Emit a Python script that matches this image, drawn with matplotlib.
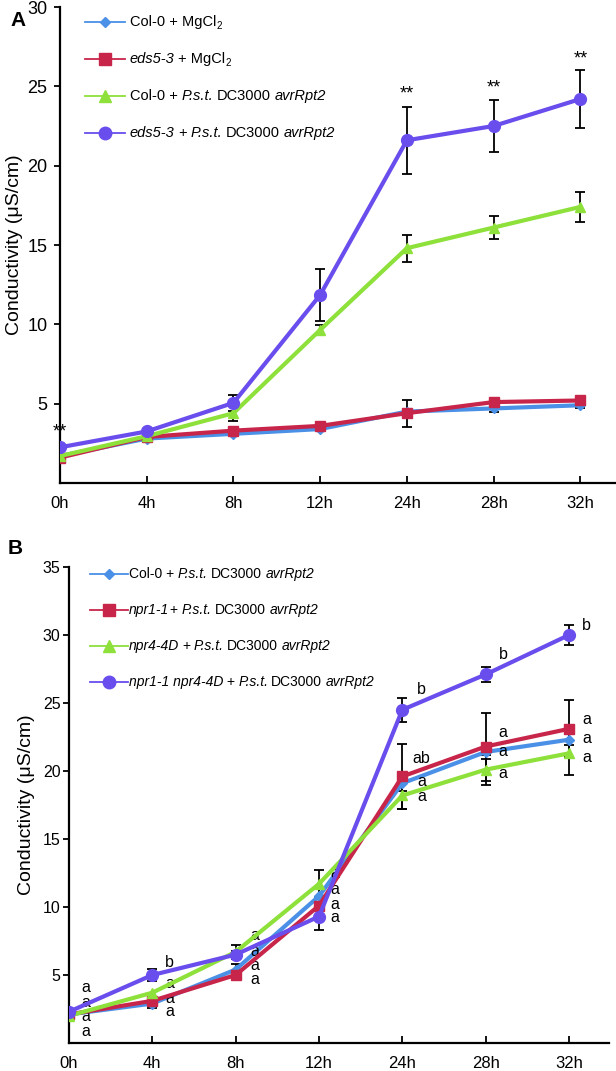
import matplotlib
matplotlib.use("Agg")
import matplotlib.pyplot as plt
import numpy as np

plt.rcParams['font.family'] = ['Liberation Sans', 'DejaVu Sans']

# ---------------- data ----------------
time_labels = ['0h', '4h', '8h', '12h', '24h', '28h', '32h']

# Panel A  (legend labels as (text, style) pieces; 'i' italic, 'n' normal, 's' subscript)
a_labels = [
    [("Col-0 + MgCl", 'n'), ("2", 's')],
    [("eds5-3", 'i'), ("+ MgCl", 'n'), ("2", 's')],
    [("Col-0 +", 'n'), ("P.s.t.", 'i'), ("DC3000", 'n'), ("avrRpt2", 'i')],
    [("eds5-3", 'i'), ("+", 'n'), ("P.s.t.", 'i'), ("DC3000", 'n'), ("avrRpt2", 'i')],
]
a_col0_mg = [1.7, 2.8, 3.1, 3.4, 4.5, 4.7, 4.9]
a_eds_mg = [1.6, 2.9, 3.3, 3.6, 4.4, 5.1, 5.2]
a_col0_pst = [1.7, 2.95, 4.4, 9.65, 14.8, 16.1, 17.4]
a_eds_pst = [2.25, 3.25, 5.05, 11.85, 21.6, 22.5, 24.2]
a_col0_mg_err = [0, 0, 0, 0, 0, 0.2, 0.2]
a_eds_mg_err = [0, 0, 0, 0, 0.85, 0, 0]
a_col0_pst_err = [0, 0, 0.5, 0.3, 0.85, 0.75, 0.95]
a_eds_pst_err = [0, 0, 0.5, 1.65, 2.1, 1.65, 1.8]
a_star_idx = [0, 4, 5, 6]
a_star_y = [3.2, 24.5, 24.9, 26.7]

# Panel B
b_labels = [
    [("Col-0 +", 'n'), ("P.s.t.", 'i'), ("DC3000", 'n'), ("avrRpt2", 'i')],
    [("npr1-1", 'i'), ("+", 'n0'), ("P.s.t.", 'i'), ("DC3000", 'n'), ("avrRpt2", 'i')],
    [("npr4-4D", 'i'), ("+", 'n'), ("P.s.t.", 'i'), ("DC3000", 'n'), ("avrRpt2", 'i')],
    [("npr1-1 npr4-4D", 'i'), ("+", 'n'), ("P.s.t.", 'i'), ("DC3000", 'n'), ("avrRpt2", 'i')],
]
b_col0 = [2.1, 2.9, 5.4, 10.8, 19.1, 21.4, 22.3]
b_npr1 = [2.1, 3.1, 5.0, 10.1, 19.6, 21.8, 23.1]
b_npr4 = [2.0, 3.7, 6.7, 11.7, 18.2, 20.1, 21.3]
b_double = [2.3, 5.0, 6.5, 9.3, 24.5, 27.1, 30.0]
b_col0_err = [0, 0.3, 0.4, 0.5, 0.6, 0.5, 0.4]
b_npr1_err = [0, 0, 0.25, 0, 2.4, 2.5, 2.1]
b_npr4_err = [0, 0, 0.5, 1.0, 1.0, 1.1, 1.6]
b_double_err = [0, 0.45, 0.3, 1.0, 0.9, 0.55, 0.75]
# significance letters
b_letter_x = [0.2, 0.2, 0.2, 0.2, 1.21, 1.21, 1.21, 1.21, 2.23, 2.23, 2.23, 2.23,
              3.19, 3.19, 3.19, 3.19, 4.23, 4.23, 4.23, 4.23, 5.21, 5.21, 5.21, 5.21,
              6.21, 6.21, 6.21, 6.21]
b_letter_y = [4.1, 3.0, 1.95, 0.85, 5.9, 4.4, 3.3, 2.3, 7.9, 6.7, 5.7, 4.7,
              12.5, 11.3, 10.2, 9.2, 26.0, 20.9, 19.25, 18.1, 28.6, 22.8, 21.45, 19.8,
              30.7, 23.8, 22.4, 21.0]
b_letter_t = ['a', 'a', 'a', 'a', 'b', 'a', 'a', 'a', 'a', 'a', 'a', 'a',
              'a', 'a', 'a', 'a', 'b', 'ab', 'a', 'a', 'b', 'a', 'a', 'a',
              'b', 'a', 'a', 'a']

# ---------------- styles ----------------
colors = ['#4a90e6', '#c8254b', '#8ee03a', '#6a4ded']
markers = ['D', 's', '^', 'o']
msizes = [5, 7.5, 7.5, 8.5]

fig = plt.figure(figsize=(6.16, 10.71), dpi=100)
W, H = 616.0, 1071.0
axA = fig.add_axes([60 / W, 1 - 483 / H, 555 / W, 476 / H])
axB = fig.add_axes([69 / W, 1 - 1043 / H, 540 / W, 476 / H])

x = np.arange(len(time_labels))


def style_axes(ax, ymax, yfs, xfs, ypad, xlim):
    ax.set_xlim(0, xlim)
    ax.set_ylim(0, ymax)
    for s in ['top', 'right']:
        ax.spines[s].set_visible(False)
    for s in ['left', 'bottom']:
        ax.spines[s].set_linewidth(1.6)
    ax.set_xticks(x)
    ax.set_xticklabels(time_labels, fontsize=xfs)
    ax.set_yticks(np.arange(5, ymax + 1, 5))
    ax.tick_params(axis='y', direction='out', length=4, width=1.3, labelsize=yfs, pad=ypad)
    ax.tick_params(axis='x', direction='in', length=5, width=1.3, pad=9)


def draw_series(ax, series, errs):
    for i, (ys, es) in enumerate(zip(series, errs)):
        es = np.array(es, dtype=float)
        m = es > 0
        ax.errorbar(x[m], np.array(ys)[m], yerr=es[m], fmt='none', ecolor='black',
                    elinewidth=1.3, capsize=3.5, capthick=1.3, zorder=2)
    for i, ys in enumerate(series):
        ax.plot(x, ys, color=colors[i], lw=3.0, marker=markers[i], ms=msizes[i],
                markeredgecolor=colors[i], zorder=3 + i)


def rich_text(ax, xx, yy, pieces, fs):
    prev = None
    prev_style = None
    for txt, st in pieces:
        style = 'italic' if st == 'i' else 'normal'
        if prev is None:
            prev = ax.text(xx, yy, txt, transform=ax.transAxes, fontsize=fs,
                           style=style, va='center', ha='left')
        elif st == 's':
            prev = ax.annotate(txt, xy=(1, 0), xycoords=prev, xytext=(0.3, -1.6),
                               textcoords='offset points', fontsize=fs * 0.68,
                               va='bottom', ha='left')
        else:
            if st == 'n0':
                gap = 0.3
            elif prev_style == 'i':
                gap = 0.22 * fs
            else:
                gap = 0.27 * fs
            prev = ax.annotate(txt, xy=(1, 0), xycoords=prev, xytext=(gap, 0),
                               textcoords='offset points', fontsize=fs, style=style,
                               va='bottom', ha='left')
        prev_style = st


def manual_legend(ax, labels, x0, x1, xt, ys_px, top_px, h_px, fs):
    for i, lab in enumerate(labels):
        yy = 1 - (ys_px[i] - top_px) / h_px
        ax.plot([x0, x1], [yy, yy], transform=ax.transAxes, color=colors[i], lw=1.3,
                clip_on=False, zorder=10)
        ax.plot([(x0 + x1) / 2], [yy], transform=ax.transAxes, color=colors[i],
                marker=markers[i], ms=msizes[i] + 0.5, clip_on=False, zorder=11)
        rich_text(ax, xt, yy, lab, fs)


# Panel A
style_axes(axA, 30, 13, 12, 5, 6.40)
draw_series(axA, [a_col0_mg, a_eds_mg, a_col0_pst, a_eds_pst],
            [a_col0_mg_err, a_eds_mg_err, a_col0_pst_err, a_eds_pst_err])
for xi, yv in zip(a_star_idx, a_star_y):
    axA.text(x[xi], yv, '**', fontsize=13, ha='center', va='center')
axA.set_ylabel('Conductivity (μS/cm)', fontsize=14, labelpad=3)
manual_legend(axA, a_labels, 25 / 555, 65 / 555, 70 / 555, [22, 59, 96, 133], 7, 476, 10.5)

# Panel B
style_axes(axB, 35, 11.5, 12, 2, 6.48)
draw_series(axB, [b_col0, b_npr1, b_npr4, b_double],
            [b_col0_err, b_npr1_err, b_npr4_err, b_double_err])
for xl, yl, tl in zip(b_letter_x, b_letter_y, b_letter_t):
    axB.text(xl, yl, tl, fontsize=11.5, ha='center', va='center')
axB.set_ylabel('Conductivity (μS/cm)', fontsize=14, labelpad=6)
manual_legend(axB, b_labels, 21 / 540, 59 / 540, 60 / 540, [574, 610, 646, 682], 567, 476, 10)

fig.text(10 / W, 1 - 20 / H, 'A', fontsize=15, fontweight='bold', ha='left', va='center')
fig.text(8 / W, 1 - 548 / H, 'B', fontsize=15, fontweight='bold', ha='left', va='center')

fig.savefig('out.png', dpi=100)
